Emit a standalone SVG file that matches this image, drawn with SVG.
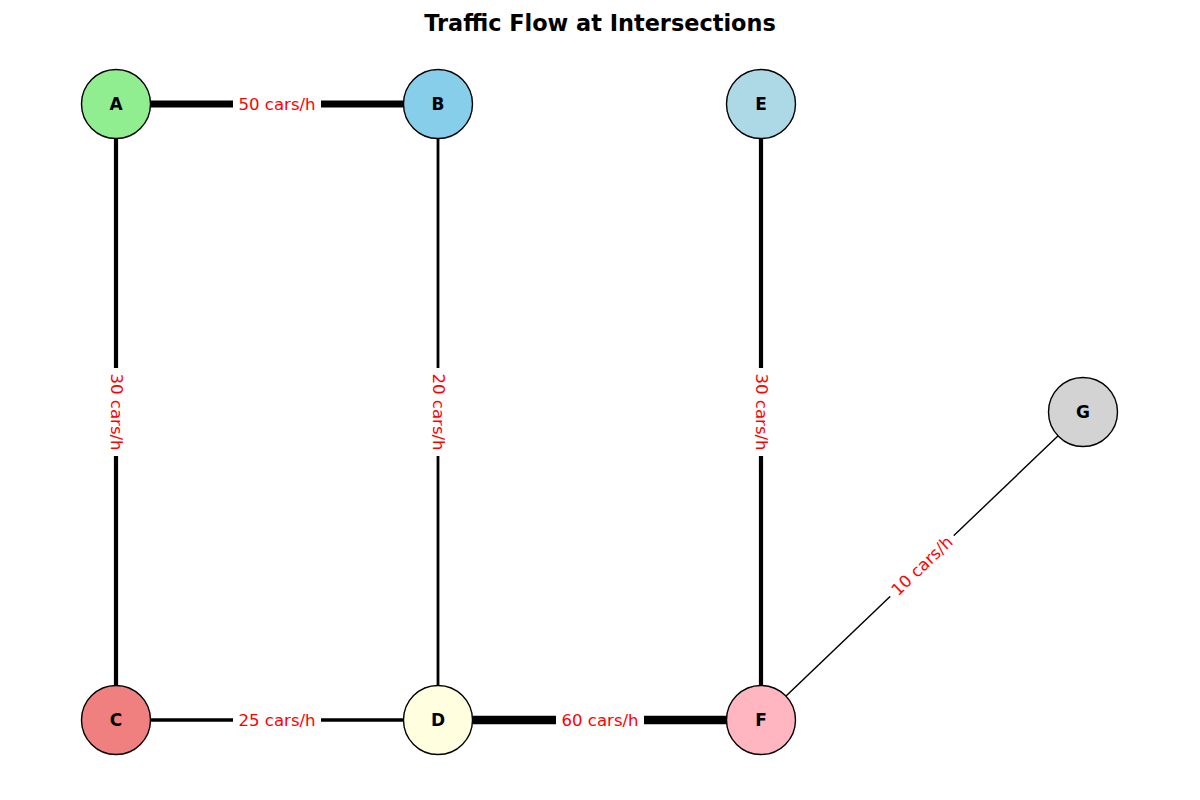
<svg xmlns="http://www.w3.org/2000/svg" width="1200" height="800" viewBox="0 0 1200 800">
<style>
.edge{stroke:#000;fill:none}
.node circle{stroke:#000;stroke-width:1.4}
.node text{font-family:"DejaVu Sans",sans-serif;font-weight:bold;font-size:17px;fill:#000;text-anchor:middle;dominant-baseline:central}
.lbl rect{fill:#fff}
.lbl text{font-family:"DejaVu Sans",sans-serif;font-size:16.6px;fill:#f00;text-anchor:middle;dominant-baseline:central}
.title{font-family:"DejaVu Sans",sans-serif;font-weight:bold;font-size:22.4px;fill:#000;text-anchor:middle}
</style>
<rect width="1200" height="800" fill="#fff"/>
<text class="title" x="600" y="31">Traffic Flow at Intersections</text>
<g id="connectors">
  <line class="edge" x1="116" y1="104" x2="438" y2="104" stroke-width="6.9"/>
  <line class="edge" x1="116" y1="104" x2="116" y2="720" stroke-width="4.2"/>
  <line class="edge" x1="438" y1="104" x2="438" y2="720" stroke-width="2.8"/>
  <line class="edge" x1="116" y1="720" x2="438" y2="720" stroke-width="3.5"/>
  <line class="edge" x1="438" y1="720" x2="761" y2="720" stroke-width="8.3"/>
  <line class="edge" x1="761" y1="104" x2="761" y2="720" stroke-width="4.2"/>
  <line class="edge" x1="761" y1="720" x2="1083" y2="412" stroke-width="1.4"/>
  <g class="lbl">
    <g transform="translate(277,104)"><rect x="-44" y="-11" width="88" height="22"/><text x="0" y="0">50 cars/h</text></g>
    <g transform="translate(116,412) rotate(90)"><rect x="-44" y="-11" width="88" height="22"/><text x="0" y="0">30 cars/h</text></g>
    <g transform="translate(438,412) rotate(90)"><rect x="-44" y="-11" width="88" height="22"/><text x="0" y="0">20 cars/h</text></g>
    <g transform="translate(761,412) rotate(90)"><rect x="-44" y="-11" width="88" height="22"/><text x="0" y="0">30 cars/h</text></g>
    <g transform="translate(277,720)"><rect x="-44" y="-11" width="88" height="22"/><text x="0" y="0">25 cars/h</text></g>
    <g transform="translate(600,720)"><rect x="-44" y="-11" width="88" height="22"/><text x="0" y="0">60 cars/h</text></g>
    <g transform="translate(922,566) rotate(-43.7)"><rect x="-44" y="-11" width="88" height="22"/><text x="0" y="0">10 cars/h</text></g>
  </g>
</g>
<g id="node-A" class="node"><circle cx="116" cy="104" r="34.5" fill="#90EE90"/><text x="116" y="104">A</text></g>
<g id="node-B" class="node"><circle cx="438" cy="104" r="34.5" fill="#87CEEB"/><text x="438" y="104">B</text></g>
<g id="node-E" class="node"><circle cx="761" cy="104" r="34.5" fill="#ADD8E6"/><text x="761" y="104">E</text></g>
<g id="node-G" class="node"><circle cx="1083" cy="412" r="34.5" fill="#D3D3D3"/><text x="1083" y="412">G</text></g>
<g id="node-C" class="node"><circle cx="116" cy="720" r="34.5" fill="#F08080"/><text x="116" y="720">C</text></g>
<g id="node-D" class="node"><circle cx="438" cy="720" r="34.5" fill="#FFFFE0"/><text x="438" y="720">D</text></g>
<g id="node-F" class="node"><circle cx="761" cy="720" r="34.5" fill="#FFB6C1"/><text x="761" y="720">F</text></g>
</svg>
